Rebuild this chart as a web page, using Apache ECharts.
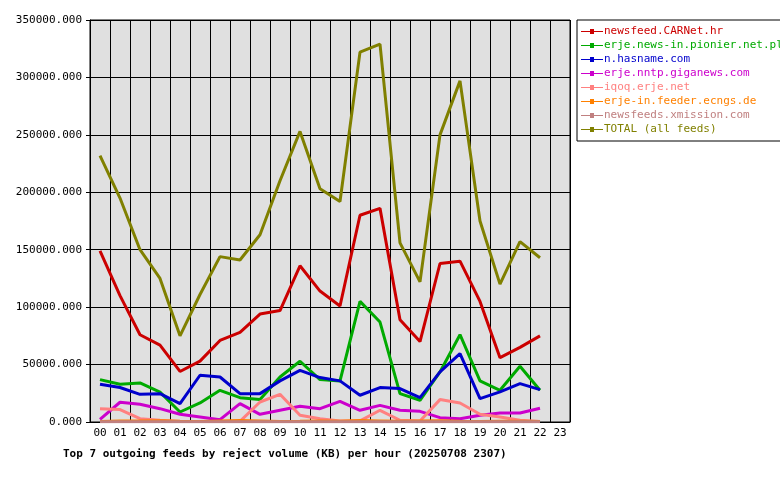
<!DOCTYPE html>
<html><head><meta charset="utf-8">
<script src="https://cdn.jsdelivr.net/npm/echarts@6/dist/echarts.min.js"></script>
<style>body{margin:0;background:#fff}#c{width:780px;height:480px}</style>
</head><body><div id="c"></div>
<script>
const hours = ['00','01','02','03','04','05','06','07','08','09','10','11','12','13','14','15','16','17','18','19','20','21','22','23'];
const carnet = [149000,110000,76000,67000,44000,53000,71000,78000,94000,97000,136000,114000,101000,180000,186000,89000,70000,138000,140000,105000,56000,65000,75000];
const pionier = [36900,32800,34000,26000,8700,16600,27600,21200,19500,39200,52900,36900,35800,105000,87000,24700,18900,43600,76000,35800,27600,48500,27600];
const hasname = [32800,30000,24100,24700,16000,40700,39200,24700,24700,35800,45000,38700,35800,23300,30000,29100,21200,43600,59600,20300,26200,33400,28200];
const giganews = [2300,17200,15400,11600,6700,4400,2000,16000,6700,10200,13700,11600,18000,10200,14500,10200,9300,3800,2900,5800,7800,7800,11900];
const iqoq = [11600,10800,2900,1500,500,500,500,600,17400,24100,5800,2900,800,1000,10200,1500,800,19500,16600,6700,4400,1500,500];
const ecngs = [400,800,900,1000,600,500,900,1200,800,400,600,900,700,1200,900,600,900,1000,700,500,700,600,500];
const xmission = [300,300,300,300,300,300,300,300,300,300,300,300,300,300,300,300,300,300,300,300,300,300,300];
const total = [232000,195000,150000,125000,75000,111000,144000,141000,163000,210000,253000,203000,192000,322000,329000,156000,122000,250000,297000,175000,120000,157000,143000];

const names = ['newsfeed.CARNet.hr','erje.news-in.pionier.net.pl','n.hasname.com','erje.nntp.giganews.com','iqoq.erje.net','erje-in.feeder.ecngs.de','newsfeeds.xmission.com','TOTAL (all feeds)'];
const colors = ['#cc0000','#00aa00','#0000cc','#cc00cc','#ff8080','#ff8000','#c08080','#808000'];
const datas = [carnet,pionier,hasname,giganews,iqoq,ecngs,xmission,total];
const font = 'DejaVu Sans Mono';

let chart = echarts.init(document.getElementById('c'));
chart.setOption({
  animation: false,
  color: colors,
  textStyle: {fontFamily: font},
  title: {
    text: 'Top 7 outgoing feeds by reject volume (KB) per hour (20250708 2307)',
    left: 58, top: 444,
    textStyle: {fontFamily: font, fontSize: 11, fontWeight: 'bold', color: '#000'}
  },
  legend: {
    orient: 'vertical', left: 577, top: 20, width: 195,
    padding: [6, 4, 6, 4], itemGap: 3,
    borderColor: '#000', borderWidth: 1,
    itemWidth: 22, itemHeight: 6,
    icon: 'path://M0,3 L22,3 L22,4 L0,4 Z M9,1 L13,1 L13,6 L9,6 Z',
    textStyle: {fontFamily: font, fontSize: 11, padding: [0, 0, 0, -4]},
    data: names.map((n, i) => ({name: n, textStyle: {color: colors[i]}}))
  },
  grid: {left: 90, right: 210, top: 20, bottom: 58, show: true, backgroundColor: '#e0e0e0', borderColor: '#000', borderWidth: 1},
  xAxis: {
    type: 'category', data: hours, boundaryGap: true,
    axisLine: {lineStyle: {color: '#000'}},
    axisTick: {alignWithLabel: true, length: 4, lineStyle: {color: '#000'}},
    axisLabel: {color: '#000', fontFamily: font, fontSize: 11, margin: 6, interval: 0},
    splitLine: {show: true, interval: 0, lineStyle: {color: '#000'}}
  },
  yAxis: {
    type: 'value', min: 0, max: 350000, interval: 50000,
    axisLine: {show: true, lineStyle: {color: '#000'}},
    axisTick: {show: true, length: 4, lineStyle: {color: '#000'}},
    axisLabel: {color: '#000', fontFamily: font, fontSize: 11, formatter: v => v.toFixed(3)},
    splitLine: {lineStyle: {color: '#000'}}
  },
  series: datas.map((d, i) => ({
    name: names[i], type: 'line', data: d, showSymbol: false,
    lineStyle: {width: 3, color: colors[i]}, z: i === 7 ? 10 : 2 + i
  }))
});
</script></body></html>
